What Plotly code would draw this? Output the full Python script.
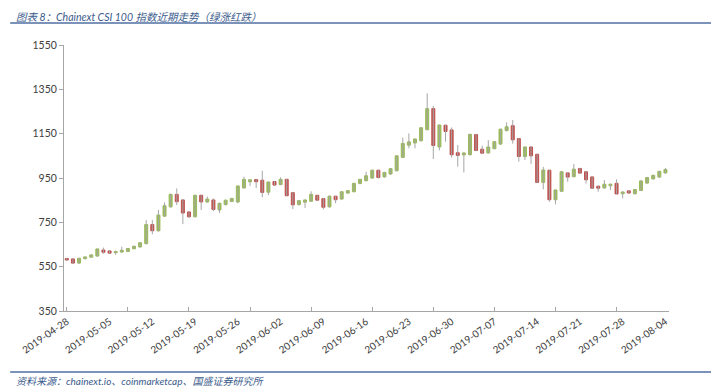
import plotly.graph_objects as go
import pandas as pd

# ---- data ----
dates = pd.date_range("2019-04-28", "2019-08-04", freq="D").strftime("%Y-%m-%d").tolist()

opens = [587, 585, 566, 586, 593, 598, 625, 621, 613, 616, 618, 631, 639, 654, 740, 712, 778, 820, 876, 851,
         797, 775, 872, 842, 851, 806, 830, 844, 842, 905, 933, 943, 940, 886, 934, 920, 944, 884, 830, 841,
         845, 872, 857, 820, 868, 855, 882, 888, 925, 938, 950, 985, 955, 968, 983, 1043, 1098, 1108, 1118, 1168,
         1263, 1090, 1188, 1167, 1064, 1054, 1055, 1146, 1080, 1063, 1082, 1103, 1164, 1186, 1128, 1047, 1090, 1057, 930, 985,
         852, 890, 973, 956, 993, 978, 955, 913, 905, 915, 926, 879, 892, 879, 894, 927, 946, 954, 973]
highs = [590, 587, 590, 596, 606, 632, 636, 624, 622, 640, 634, 645, 660, 760, 760, 806, 840, 880, 903, 855,
         800, 874, 875, 866, 858, 838, 852, 860, 916, 956, 944, 946, 983, 934, 936, 953, 946, 886, 850, 853,
         890, 874, 860, 871, 870, 890, 896, 928, 946, 978, 988, 988, 978, 995, 1053, 1132, 1151, 1128, 1180, 1332,
         1275, 1191, 1191, 1178, 1099, 1066, 1149, 1149, 1096, 1121, 1116, 1173, 1201, 1212, 1131, 1092, 1093, 1059, 1000, 988,
         898, 981, 976, 1013, 996, 981, 958, 916, 941, 925, 944, 890, 895, 900, 940, 955, 965, 983, 995]
lows = [577, 562, 562, 583, 590, 594, 608, 608, 604, 613, 616, 628, 636, 650, 696, 708, 775, 816, 828, 742,
        770, 772, 806, 838, 800, 792, 826, 841, 836, 902, 914, 905, 863, 873, 915, 918, 868, 810, 826, 815,
        843, 846, 808, 816, 836, 853, 879, 886, 922, 935, 946, 948, 952, 964, 980, 1040, 1084, 1084, 1115, 1165,
        1036, 1075, 1114, 1042, 1001, 975, 1052, 1071, 1059, 1060, 1080, 1100, 1160, 1105, 1024, 1031, 1013, 927, 899, 843,
        831, 887, 933, 953, 969, 925, 901, 888, 902, 896, 876, 858, 879, 876, 891, 924, 943, 951, 970]
closes = [580, 566, 588, 594, 603, 630, 615, 611, 618, 624, 632, 642, 658, 740, 712, 783, 825, 876, 843, 792,
          775, 872, 842, 855, 808, 836, 850, 858, 914, 944, 942, 933, 885, 932, 918, 944, 870, 829, 848, 851,
          876, 850, 818, 868, 852, 888, 893, 926, 944, 960, 985, 952, 975, 992, 1050, 1106, 1113, 1126, 1177, 1263,
          1097, 1189, 1160, 1055, 1052, 1063, 1147, 1074, 1062, 1090, 1114, 1170, 1181, 1122, 1047, 1090, 1050, 930, 986, 852,
          896, 978, 954, 990, 972, 942, 904, 904, 922, 922, 878, 887, 882, 898, 937, 952, 962, 980, 988]

y_ticks = [350, 550, 750, 950, 1150, 1350, 1550]
x_labels = ["2019-04-28", "2019-05-05", "2019-05-12", "2019-05-19", "2019-05-26", "2019-06-02", "2019-06-09",
            "2019-06-16", "2019-06-23", "2019-06-30", "2019-07-07", "2019-07-14", "2019-07-21", "2019-07-28",
            "2019-08-04"]

title_text = "图表 8：Chainext CSI 100 指数近期走势（绿涨红跌）"
source_text = "资料来源：chainext.io、coinmarketcap、国盛证券研究所"

# ---- layout geometry ----
# The page body has an 8px default margin, so the figure starts at (8, 8) of the screenshot.
OFF = 8
W, H = 719 - OFF, 392 - OFF
# plot area in screenshot pixels: x 62..669, y 45..311
L, T = 62 - OFF, 45 - OFF
R = W - (669 - OFF)
B = H - (311 - OFF)
PW, PH = W - L - R, H - T - B


def px(X):  # screenshot x -> paper
    return (X - OFF - L) / PW


def py(Y):  # screenshot y -> paper
    return (H - B - (Y - OFF)) / PH


GREEN = "#9bbb59"
RED = "#c0504d"

# wicks built from the data arrays
wx, wy = [], []
for d, lo, hi in zip(dates, lows, highs):
    wx += [d, d, None]
    wy += [lo, hi, None]

body_hi = [max(o, c) for o, c in zip(opens, closes)]
body_lo = [min(o, c) for o, c in zip(opens, closes)]

fig = go.Figure()
fig.add_trace(go.Scatter(x=wx, y=wy, mode="lines", line=dict(color="#a6a6a6", width=1),
                         hoverinfo="skip", showlegend=False))
fig.add_trace(go.Candlestick(
    x=dates, open=opens, high=body_hi, low=body_lo, close=closes,
    increasing=dict(fillcolor=GREEN, line=dict(color=GREEN, width=1)),
    decreasing=dict(fillcolor=RED, line=dict(color=RED, width=1)),
    whiskerwidth=0, showlegend=False))

fig.update_layout(
    width=W, height=H,
    margin=dict(l=L, r=R, t=T, b=B),
    paper_bgcolor="white", plot_bgcolor="white",
    font=dict(family="Lato, 'Noto Sans CJK SC', sans-serif", color="#404040", size=11),
    showlegend=False,
    xaxis=dict(
        type="date",
        range=["2019-04-27 13:00", "2019-08-04 14:00"],
        rangeslider=dict(visible=False),
        tickmode="array", tickvals=x_labels, ticktext=x_labels,
        tickangle=-35, tickfont=dict(size=10, color="#404040"),
        ticks="", showgrid=False, zeroline=False,
        showline=True, linecolor="#a6a6a6", linewidth=1,
        minor=dict(ticks="inside", ticklen=4, tickcolor="#a6a6a6",
                   tick0="2019-04-28", dtick=10 * 86400000, showgrid=False),
    ),
    yaxis=dict(
        range=[350, 1550], tickmode="array", tickvals=y_ticks,
        ticks="outside", ticklen=4, tickcolor="#a6a6a6",
        showgrid=False, zeroline=False,
        showline=True, linecolor="#a6a6a6", linewidth=1,
        tickfont=dict(size=10.5, color="#404040"),
    ),
    shapes=[
        dict(type="line", xref="paper", yref="paper", x0=px(8), x1=px(715), y0=py(23), y1=py(23),
             line=dict(color="#4f6fa0", width=1.5)),
        dict(type="line", xref="paper", yref="paper", x0=px(8), x1=px(715), y0=py(372), y1=py(372),
             line=dict(color="#4f6fa0", width=1.5)),
    ],
    annotations=[
        dict(text="<i>" + title_text + "</i>", xref="paper", yref="paper", x=px(12), y=py(9),
             xanchor="left", yanchor="top", showarrow=False,
             font=dict(size=10.5, color="#3b5b8c", family="Lato, 'Noto Sans CJK SC', sans-serif")),
        dict(text="<i>" + source_text + "</i>", xref="paper", yref="paper", x=px(12), y=py(381),
             xanchor="left", yanchor="middle", showarrow=False,
             font=dict(size=10, color="#3b5b8c", family="Lato, 'Noto Sans CJK SC', sans-serif")),
    ],
)

fig.write_html("out.html")
